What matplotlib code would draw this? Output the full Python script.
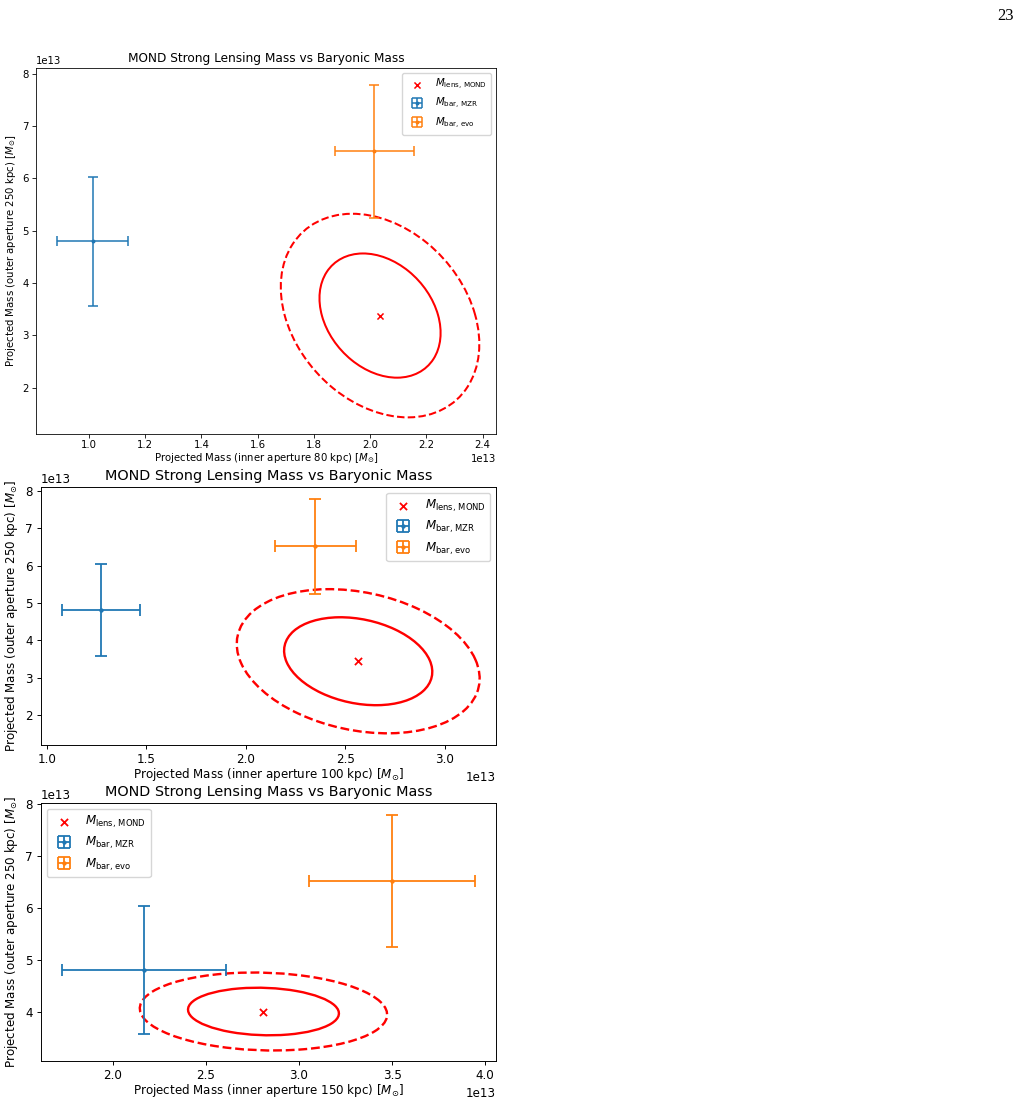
import numpy as np
import matplotlib.pyplot as plt
from matplotlib.patches import Ellipse

# inner aperture of each panel (kpc)
apertures = [80, 100, 150]

# MOND lensing mass, centre and 1-sigma errors (1e13 Msun)
lens_x = [2.035, 2.565, 2.81]
lens_y = [3.38, 3.44, 4.00]
lens_sx = [0.142, 0.2455, 0.267]
lens_sy = [0.782, 0.776, 0.302]
lens_rho = [-0.28, -0.24, -0.08]

# baryonic mass from the MZR
mzr_x = [1.013, 1.271, 2.167]
mzr_xerr = [0.127, 0.196, 0.44]
mzr_y = [4.80, 4.80, 4.80]
mzr_yerr = [1.23, 1.23, 1.23]

# baryonic mass from evolution model
evo_x = [2.015, 2.35, 3.50]
evo_xerr = [0.14, 0.205, 0.447]
evo_y = [6.52, 6.52, 6.52]
evo_yerr = [1.27, 1.27, 1.27]

# delta chi2 for 68% and 95% contours (2 dof)
chi2_levels = [2.30, 6.18]
styles = ['-', '--']

scale = 1e13

fig = plt.figure(figsize=(10.27, 11.04), dpi=100)
boxes = [
    [36/1027, 1-434/1104, 460/1027, 366/1104],
    [41/1027, 1-745/1104, 455/1027, 258/1104],
    [41/1027, 1-1061/1104, 455/1027, 258/1104],
]
fscale = [0.73, 0.86, 0.86]
xlabel_pad = [0.5, 0, 0]
xtick_pad = [2.0, 3.0, 3.0]
legend_loc = ['upper right', 'upper right', 'upper left']


def cov_ellipse(ax, x, y, sx, sy, rho, k, ls, lw):
    cov = np.array([[sx**2, rho*sx*sy], [rho*sx*sy, sy**2]]) * scale**2
    vals, vecs = np.linalg.eigh(cov)
    angle = np.degrees(np.arctan2(vecs[1, 1], vecs[0, 1]))
    e = Ellipse((x*scale, y*scale), 2*np.sqrt(k*vals[1]), 2*np.sqrt(k*vals[0]),
                angle=angle, fill=False, edgecolor='red', ls=ls, lw=lw)
    ax.add_patch(e)


for i in range(3):
    f = fscale[i]
    ax = fig.add_axes(boxes[i])
    ax.scatter([lens_x[i]*scale], [lens_y[i]*scale], marker='x', color='red',
               s=36*f**2, linewidths=1.5*f, label=r'$M_{\mathrm{lens,\,MOND}}$', zorder=3)
    ax.errorbar([mzr_x[i]*scale], [mzr_y[i]*scale],
                xerr=[mzr_xerr[i]*scale], yerr=[mzr_yerr[i]*scale],
                fmt='.', color='C0', capsize=5*f, ms=5*f, elinewidth=1.5*f,
                capthick=1.5*f, label=r'$M_{\mathrm{bar,\,MZR}}$')
    ax.errorbar([evo_x[i]*scale], [evo_y[i]*scale],
                xerr=[evo_xerr[i]*scale], yerr=[evo_yerr[i]*scale],
                fmt='.', color='C1', capsize=5*f, ms=5*f, elinewidth=1.5*f,
                capthick=1.5*f, label=r'$M_{\mathrm{bar,\,evo}}$')
    for k, ls in zip(chi2_levels, styles):
        cov_ellipse(ax, lens_x[i], lens_y[i], lens_sx[i], lens_sy[i],
                    lens_rho[i], k, ls, 2*f)
    ax.autoscale_view()
    ax.set_title('MOND Strong Lensing Mass vs Baryonic Mass', fontsize=12*f, pad=6*f)
    ax.set_xlabel('Projected Mass (inner aperture %d kpc) [$M_{\\odot}$]' % apertures[i],
                  fontsize=10*f, labelpad=xlabel_pad[i])
    ax.set_ylabel('Projected Mass (outer aperture 250 kpc) [$M_{\\odot}$]',
                  fontsize=10*f, labelpad=4*f)
    ax.tick_params(labelsize=10*f, length=3.5*f, width=0.8*f, pad=3.5*f)
    ax.tick_params(axis='x', pad=xtick_pad[i])
    ax.xaxis.get_offset_text().set_fontsize(10*f)
    ax.yaxis.get_offset_text().set_fontsize(10*f)
    for sp in ax.spines.values():
        sp.set_linewidth(0.8*f)
    ax.legend(loc=legend_loc[i], fontsize=10*f, labelspacing=0.4)

fig.text(1014/1027, 1-20/1104, '23', family='Liberation Serif', fontsize=12,
         ha='right', va='baseline')

plt.savefig('out.png', dpi=100)
